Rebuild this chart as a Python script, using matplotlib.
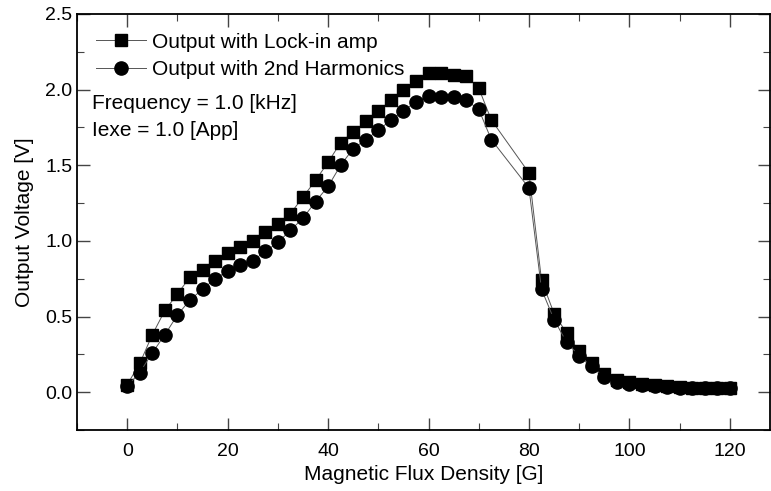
import matplotlib
matplotlib.use("Agg")
import matplotlib.pyplot as plt
from matplotlib.ticker import MultipleLocator

plt.rcParams['font.family'] = ['Liberation Sans', 'DejaVu Sans']

field = [0, 2.5, 5, 7.5, 10, 12.5, 15, 17.5, 20, 22.5, 25, 27.5, 30, 32.5, 35, 37.5,
         40, 42.5, 45, 47.5, 50, 52.5, 55, 57.5, 60, 62.5, 65, 67.5, 70, 72.5,
         80, 82.5, 85, 87.5, 90, 92.5, 95, 97.5, 100, 102.5, 105, 107.5, 110,
         112.5, 115, 117.5, 120]

lockin = [0.05, 0.19, 0.38, 0.54, 0.65, 0.76, 0.81, 0.87, 0.92, 0.96, 1.00, 1.06,
          1.11, 1.18, 1.29, 1.40, 1.52, 1.65, 1.72, 1.79, 1.86, 1.93, 2.00, 2.06,
          2.11, 2.11, 2.10, 2.09, 2.01, 1.80,
          1.45, 0.74, 0.52, 0.39, 0.27, 0.19, 0.12, 0.08, 0.065, 0.055, 0.045,
          0.04, 0.035, 0.03, 0.03, 0.03, 0.03]

harmonic = [0.04, 0.13, 0.26, 0.38, 0.51, 0.61, 0.68, 0.75, 0.80, 0.84, 0.87, 0.93,
            0.99, 1.07, 1.15, 1.26, 1.36, 1.50, 1.61, 1.67, 1.73, 1.80, 1.86, 1.92,
            1.96, 1.95, 1.95, 1.93, 1.87, 1.67,
            1.35, 0.68, 0.48, 0.33, 0.24, 0.17, 0.10, 0.07, 0.055, 0.05, 0.04,
            0.035, 0.03, 0.03, 0.025, 0.025, 0.025]

labels = ["Output with Lock-in amp", "Output with 2nd Harmonics"]
notes = ["Frequency = 1.0 [kHz]", "Iexe = 1.0 [App]"]

W, H = 771, 491
fig = plt.figure(figsize=(W / 100, H / 100), dpi=100)
ax = fig.add_axes([77 / W, 1 - 430 / H, (770 - 77) / W, (430 - 14) / H])

ax.plot(field, lockin, color='#555555', lw=0.7, marker='s', ms=8.5,
        mfc='black', mec='black', label=labels[0])
ax.plot(field, harmonic, color='#555555', lw=0.7, marker='o', ms=9.5,
        mfc='black', mec='black', label=labels[1])

ax.set_xlim(-10, 128)
ax.set_ylim(-0.25, 2.5)
ax.set_xticks([0, 20, 40, 60, 80, 100, 120])
ax.xaxis.set_minor_locator(MultipleLocator(10))
ax.yaxis.set_minor_locator(MultipleLocator(0.25))
ax.set_yticks([0.0, 0.5, 1.0, 1.5, 2.0, 2.5])
ax.set_yticklabels(["0.0", "0.5", "1.0", "1.5", "2.0", "2.5"])

ax.tick_params(which='both', direction='in', top=True, right=True,
               labelsize=14, color='#444444')
ax.tick_params(which='major', length=9, width=1)
ax.tick_params(which='minor', length=5, width=0.8)
ax.tick_params(axis='x', which='major', pad=9)
for s in ax.spines.values():
    s.set_linewidth(1.3)

ax.set_xlabel("Magnetic Flux Density [G]", fontsize=15, labelpad=4)
ax.set_ylabel("Output Voltage [V]", fontsize=15, labelpad=8)

ax.legend(loc='upper left', bbox_to_anchor=(0.0, 1.0), frameon=False,
          fontsize=15, handlelength=2.4, handletextpad=0.3,
          borderaxespad=0.5, labelspacing=0.4)

ax.text(0.022, 0.786, notes[0], transform=ax.transAxes, fontsize=15,
        va='center', ha='left')
ax.text(0.022, 0.721, notes[1], transform=ax.transAxes, fontsize=15,
        va='center', ha='left')

fig.savefig("out.png", dpi=100)
